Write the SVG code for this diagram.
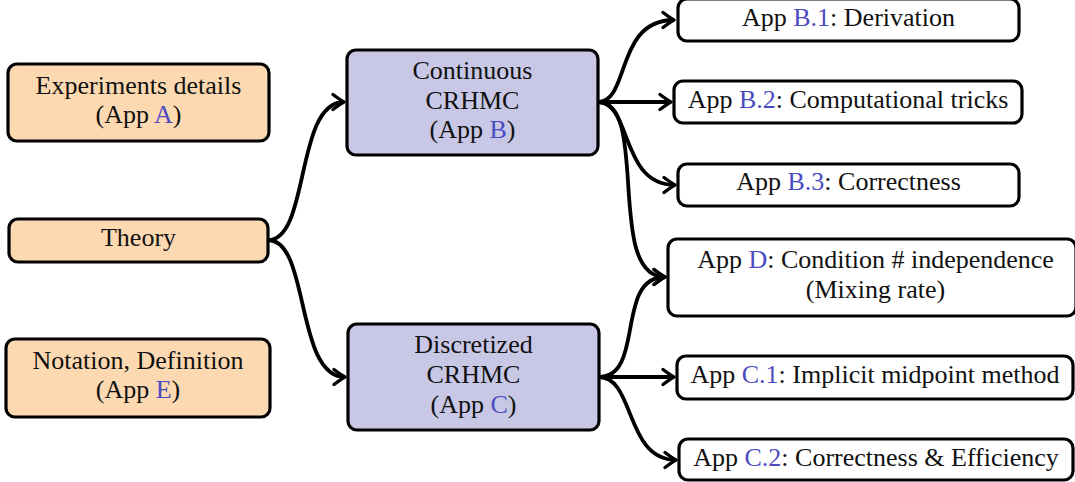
<svg xmlns="http://www.w3.org/2000/svg" width="1075" height="482" viewBox="0 0 1075 482" font-family="'Liberation Serif', 'Times New Roman', Times, serif">
<style>
.box{stroke:#000;stroke-width:3.2}
.or{fill:#FDD9B1}
.bl{fill:#C8C8E6}
.wh{fill:#fff}
text{font-family:'Liberation Serif','Times New Roman',Times,serif;font-size:26px;fill:#111;text-anchor:middle}
.ln{fill:#4B4BC2}
.c{fill:none;stroke:#000;stroke-width:3.8;marker-end:url(#ah)}
</style>
<defs>
<marker id="ah" markerUnits="userSpaceOnUse" markerWidth="20" markerHeight="20" refX="0" refY="0" viewBox="-12 -10 14 20" orient="auto" overflow="visible">
<path d="M-11,-7.5 Q-3,-1.5 0,0 Q-3,1.5 -11,7.5" fill="none" stroke="#000" stroke-width="3.4" stroke-linecap="round" stroke-linejoin="round"/>
</marker>
</defs>
<g id="connectors">
<path class="c" d="M268,240 C310,240 295,102 344,102"/>
<path class="c" d="M268,240 C310,240 295,377 345,377"/>
<path class="c" d="M598,102 C630,102 615,20 674,20"/>
<path class="c" d="M598,102 L671,102"/>
<path class="c" d="M598,102 C632,102 620,185 675,185"/>
<path class="c" d="M598,102 C650,102 605,277 665,277"/>
<path class="c" d="M599,377 C645,377 615,277 665,277"/>
<path class="c" d="M599,377 L674,377"/>
<path class="c" d="M599,377 C635,377 625,460 676,460"/>
</g>
<g id="experiments">
<rect class="box or" x="8" y="64" width="261" height="77" rx="9"/>
<text x="138.5" y="94">Experiments details</text>
<text x="138.5" y="123">(App <tspan class="ln">A</tspan>)</text>
</g>
<g id="theory">
<rect class="box or" x="9" y="219" width="259" height="43" rx="9"/>
<text x="138.5" y="246">Theory</text>
</g>
<g id="notation">
<rect class="box or" x="6" y="339" width="264" height="78" rx="9"/>
<text x="138" y="369">Notation, Definition</text>
<text x="138" y="398">(App <tspan class="ln">E</tspan>)</text>
</g>
<g id="continuous">
<rect class="box bl" x="347" y="50" width="251" height="105" rx="9"/>
<text x="472.5" y="79">Continuous</text>
<text x="472.5" y="109">CRHMC</text>
<text x="472.5" y="138">(App <tspan class="ln">B</tspan>)</text>
</g>
<g id="discretized">
<rect class="box bl" x="348" y="324" width="251" height="106" rx="9"/>
<text x="473.5" y="353">Discretized</text>
<text x="473.5" y="383">CRHMC</text>
<text x="473.5" y="413">(App <tspan class="ln">C</tspan>)</text>
</g>
<g id="b1">
<rect class="box wh" x="678" y="-1" width="341" height="42" rx="9"/>
<text x="848.5" y="26">App <tspan class="ln">B.1</tspan>: Derivation</text>
</g>
<g id="b2">
<rect class="box wh" x="674" y="81" width="348" height="42" rx="9"/>
<text x="848" y="108">App <tspan class="ln">B.2</tspan>: Computational tricks</text>
</g>
<g id="b3">
<rect class="box wh" x="678" y="164" width="341" height="42" rx="9"/>
<text x="848.5" y="190">App <tspan class="ln">B.3</tspan>: Correctness</text>
</g>
<g id="d">
<rect class="box wh" x="668" y="239" width="408" height="77" rx="9"/>
<text x="875.5" y="268">App <tspan class="ln">D</tspan>: Condition # independence</text>
<text x="875.5" y="298">(Mixing rate)</text>
</g>
<g id="c1">
<rect class="box wh" x="677" y="356" width="396" height="43" rx="9"/>
<text x="875" y="383">App <tspan class="ln">C.1</tspan>: Implicit midpoint method</text>
</g>
<g id="c2">
<rect class="box wh" x="679" y="439" width="394" height="41" rx="9"/>
<text x="876" y="466">App <tspan class="ln">C.2</tspan>: Correctness &amp; Efficiency</text>
</g>
</svg>
